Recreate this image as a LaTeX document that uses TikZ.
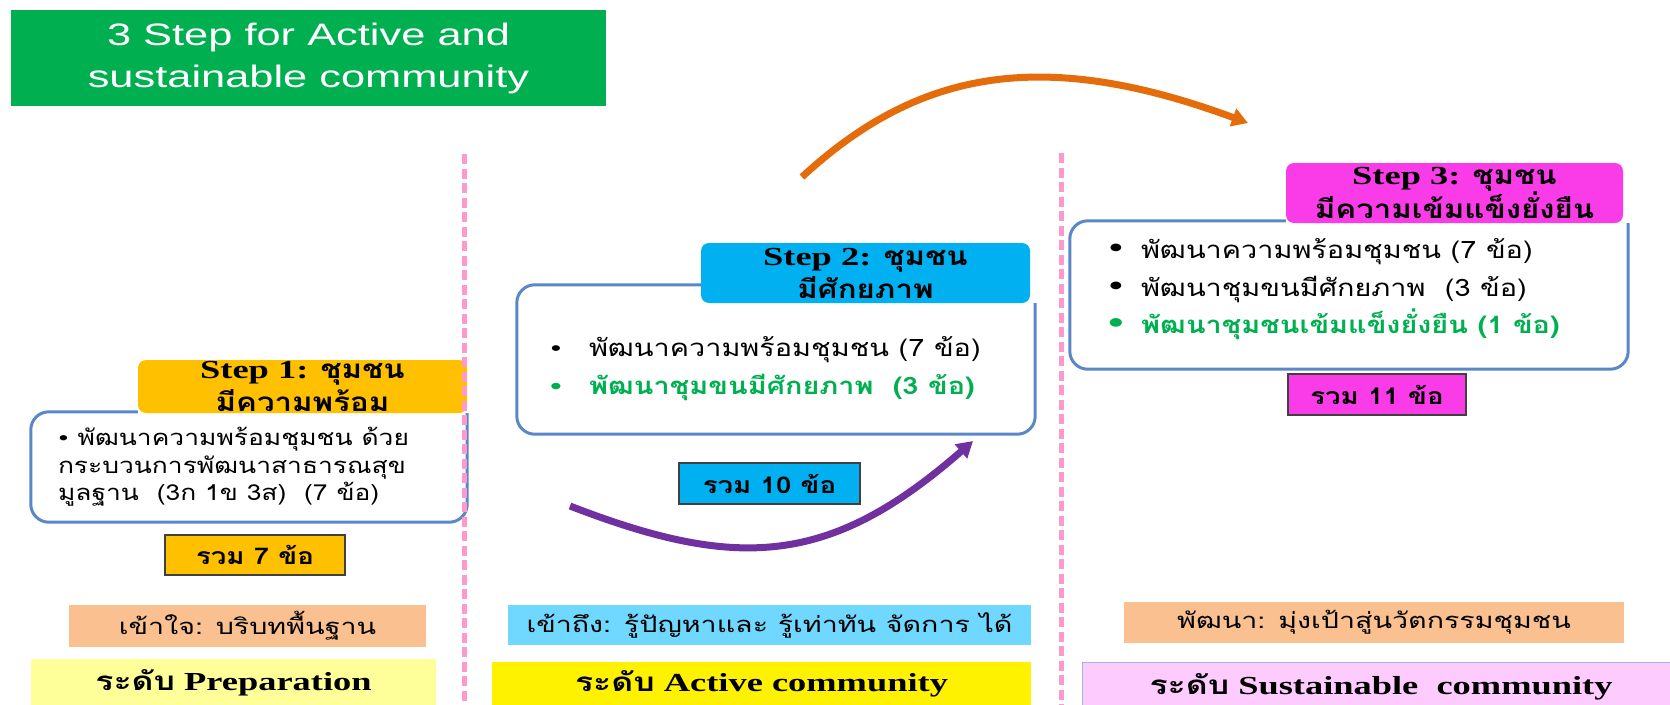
\documentclass[tikz,border=0pt]{standalone}
\usepackage{fontspec}
\usepackage{tikz}
\usetikzlibrary{arrows.meta,positioning}
\setmainfont{Liberation Serif}[FakeStretch=1.4]
\newfontfamily\thai{Loma}[Script=Thai,FakeStretch=1.2]
\newfontfamily\thaiwide{Loma}[Script=Thai,FakeStretch=1.3]
\newfontfamily\titlefont{Liberation Sans}[FakeStretch=1.4]
\definecolor{titlegreen}{HTML}{00B050}
\definecolor{stepyellow}{HTML}{FFC000}
\definecolor{stepcyan}{HTML}{00B0F0}
\definecolor{stepmagenta}{HTML}{FA3BE8}
\definecolor{frameblue}{HTML}{5A87C5}
\definecolor{peach}{HTML}{FAC090}
\definecolor{lightcyan}{HTML}{70D8FF}
\definecolor{paleyellow}{HTML}{FFFF99}
\definecolor{lavender}{HTML}{FDCBFD}
\definecolor{dashpink}{HTML}{FF99CC}
\definecolor{arcorange}{HTML}{E46C0A}
\definecolor{arcpurple}{HTML}{7030A0}
\tikzset{>={Triangle[length=16pt,width=18pt]},
         stephead/.style={rounded corners=8pt, inner sep=0pt, align=center,
                          font=\fontsize{26}{33}\selectfont\bfseries},
         box/.style={inner sep=0pt},
         outline/.style={draw=frameblue, line width=3pt, rounded corners=18pt},
         listtext/.style={inner sep=0pt, anchor=west, align=left},
         sumbox/.style={draw=black!75, line width=1.5pt, inner sep=0pt,
                        font=\thai\fontsize{23}{23}\selectfont\bfseries},
         aimbox/.style={inner sep=0pt, font=\thaiwide\fontsize{22}{22}\selectfont},
         levelbox/.style={inner sep=0pt, font=\fontsize{26}{26}\selectfont\bfseries},
         divider/.style={draw=dashpink, line width=5pt, dash pattern=on 10pt off 4.5pt},
         flow/.style={->, line width=7pt}}

\begin{document}
\begin{tikzpicture}[x=1pt, y=-1pt]
	\useasboundingbox (0,0) rectangle (1670,704);

	\node[box, fill=titlegreen, minimum width=595pt, minimum height=96pt, align=center,
	      text=white, font=\titlefont\fontsize{31}{42}\selectfont] (title) at (308.5,58)
	      {3 Step for Active and\\sustainable community};

	% step 1
	\node[box, minimum width=436pt, minimum height=110pt] (frame1) at (249,467) {};
	\node[stephead, fill=stepyellow, minimum width=329pt, minimum height=53pt] (head1) at (302.5,386.5)
	      {Step 1: {\thai ชุมชน}\\{\thai มีความพร้อม}};
	\draw[outline] (head1.west |- frame1.north) -- (frame1.north west) -- (frame1.south west)
	      -- (frame1.south east) -- (frame1.east |- head1.south);
	\node[listtext, font=\thai\fontsize{22}{27.5}\selectfont] (list1) at ([xshift=27pt]frame1.west)
	      {{\rmfamily\textbullet} พัฒนาความพร้อมชุมชน ด้วย\\กระบวนการพัฒนาสาธารณสุข\\มูลฐาน~ (3ก 1ข 3ส)~ (7 ข้อ)};
	\node[sumbox, fill=stepyellow, minimum width=180pt, minimum height=40pt] (total1) at (255,555) {รวม 7 ข้อ};
	\node[aimbox, fill=peach, minimum width=357pt, minimum height=42pt] (aim1) at (247.5,626) {เข้าใจ: บริบทพื้นฐาน};
	\node[levelbox, fill=paleyellow, minimum width=405pt, minimum height=47pt] (level1) at (233.5,682.5)
	      {{\thaiwide ระดับ} Preparation};

	% step 2
	\node[box, minimum width=518pt, minimum height=149pt] (frame2) at (776,359.5) {};
	\node[stephead, fill=stepcyan, minimum width=329pt, minimum height=60pt] (head2) at (865.5,273)
	      {Step 2: {\thai ชุมชน}\\{\thai มีศักยภาพ}};
	\draw[outline] (head2.west |- frame2.north) -- (frame2.north west) -- (frame2.south west)
	      -- (frame2.south east) -- (frame2.east |- head2.south);
	\node[listtext, font=\thai\fontsize{24}{38}\selectfont] (list2) at ([shift={(33,9.5)}]frame2.west)
	      {\makebox[39pt][l]{\rmfamily\textbullet}พัฒนาความพร้อมชุมชน (7 ข้อ)\\
	       {\color{titlegreen}\bfseries\makebox[39pt][l]{\rmfamily\textbullet}พัฒนาชุมขนมีศักยภาพ~ (3 ข้อ)}};
	\node[sumbox, fill=stepcyan, minimum width=181pt, minimum height=41pt] (total2) at (769.5,483.5) {รวม 10 ข้อ};
	\node[aimbox, fill=lightcyan, minimum width=523pt, minimum height=40pt] (aim2) at (769.5,625)
	      {เข้าถึง: รู้ปัญหาและ รู้เท่าทัน จัดการ ได้};
	\node[levelbox, fill=yellow, minimum width=539pt, minimum height=44pt] (level2) at (761.5,684)
	      {{\thaiwide ระดับ} Active community};

	% step 3
	\node[box, minimum width=558pt, minimum height=148pt] (frame3) at (1349,295) {};
	\node[stephead, fill=stepmagenta, minimum width=337pt, minimum height=60pt] (head3) at (1454.5,193)
	      {Step 3: {\thai ชุมชน}\\{\thai มีความเข้มแข็งยั่งยืน}};
	\draw[outline] (head3.west |- frame3.north) -- (frame3.north west) -- (frame3.south west)
	      -- (frame3.south east) -- (frame3.east |- head3.south);
	\node[listtext, font=\thai\fontsize{24}{37.5}\selectfont] (list3) at ([shift={(38,-5.5)}]frame3.west)
	      {\makebox[33pt][l]{\rmfamily\fontsize{32}{32}\selectfont\textbullet}พัฒนาความพร้อมชุมชน (7 ข้อ)\\
	       \makebox[33pt][l]{\rmfamily\fontsize{32}{32}\selectfont\textbullet}พัฒนาชุมขนมีศักยภาพ~ (3 ข้อ)\\
	       {\color{titlegreen}\bfseries\makebox[33pt][l]{\rmfamily\fontsize{32}{32}\selectfont\textbullet}พัฒนาชุมชนเข้มแข็งยั่งยืน (1 ข้อ)}};
	\node[sumbox, fill=stepmagenta, minimum width=178pt, minimum height=41pt] (total3) at (1377,394.5) {รวม 11 ข้อ};
	\node[aimbox, fill=peach, minimum width=500pt, minimum height=41pt] (aim3) at (1374,622.5)
	      {พัฒนา: มุ่งเป้าสู่นวัตกรรมชุมชน};
	\node[levelbox, fill=lavender, draw=frameblue!60, line width=1pt, minimum width=598pt, minimum height=50pt]
	      (level3) at (1381,687) {{\thaiwide ระดับ} Sustainable~ community};

	% arcs between the steps
	\coordinate (arc1from) at (570,506);
	\coordinate (arc1to) at (973,441);
	\coordinate (arc2from) at (802,177);
	\coordinate (arc2to) at (1248,123);
	\draw[flow, draw=arcpurple] (arc1from) .. controls (738,571) and (830,566) .. (arc1to);
	\draw[flow, draw=arcorange] (arc2from) .. controls (920,68) and (1045,48) .. (arc2to);

	% dividers
	\draw[divider] (464,154) -- (464,710);
	\draw[divider] (1061,153) -- (1061,710);
\end{tikzpicture}
\end{document}
